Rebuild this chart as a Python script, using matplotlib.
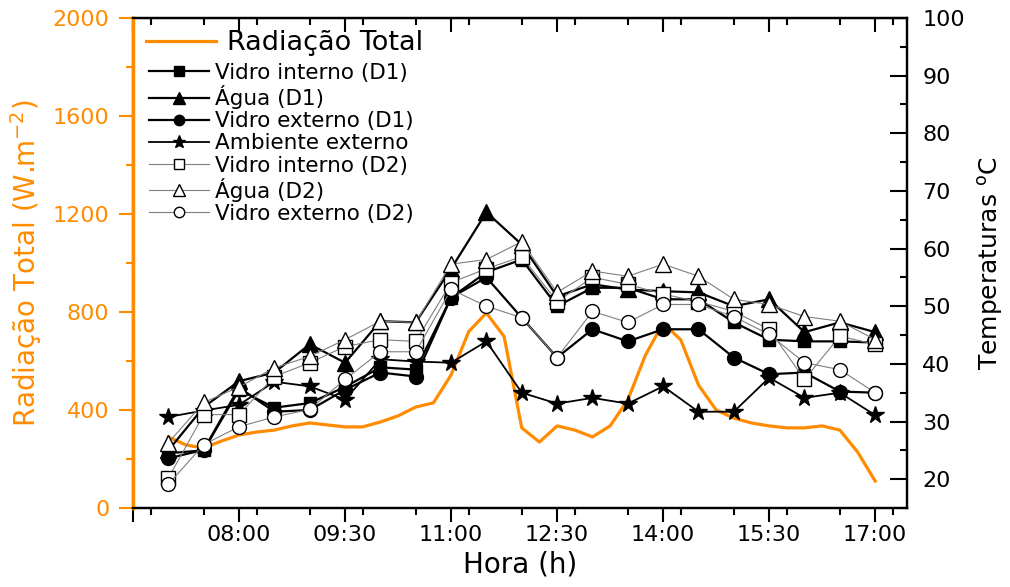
import matplotlib
matplotlib.use('Agg')
import matplotlib.pyplot as plt
from matplotlib.ticker import MultipleLocator, FixedLocator

plt.rcParams['font.family'] = ['DejaVu Sans']
plt.rcParams['mathtext.default'] = 'regular'

ORANGE = '#ff8c00'


def to_hours(labels):
    out = []
    for s in labels:
        h, m = s.split(':')
        out.append(int(h) + int(m) / 60)
    return out


# dados de temperatura (a cada 30 min)
hora_temp = ['07:00', '07:30', '08:00', '08:30', '09:00', '09:30', '10:00',
             '10:30', '11:00', '11:30', '12:00', '12:30', '13:00', '13:30',
             '14:00', '14:30', '15:00', '15:30', '16:00', '16:30', '17:00']
vidro_int_d1 = [24.5, 25.0, 35.5, 32.4, 33.2, 36.0, 39.4, 39.0, 51.5, 55.9, 58.1,
                50.0, 53.2, 53.2, 51.2, 51.2, 47.2, 44.2, 43.9, 43.9, 43.7]
agua_d1 = [25.0, 32.5, 37.0, 38.5, 43.4, 40.2, 47.4, 47.2, 56.5, 66.3, 60.7,
           51.7, 53.8, 52.9, 52.6, 52.4, 50.0, 51.2, 45.5, 47.2, 45.5]
vidro_ext_d1 = [23.6, 25.1, 35.9, 31.7, 32.0, 35.5, 38.5, 37.8, 51.5, 55.0, 48.0,
                41.1, 46.0, 43.9, 46.0, 46.0, 41.1, 38.2, 38.5, 35.2, 35.0]
ambiente = [30.8, 31.9, 32.9, 36.9, 36.1, 33.8, 40.8, 40.4, 40.2, 43.9, 35.0,
            33.1, 34.1, 33.1, 36.1, 31.7, 31.7, 37.6, 34.1, 35.0, 31.1]
vidro_int_d2 = [20.2, 31.2, 31.2, 37.8, 40.2, 43.0, 44.2, 43.9, 54.1, 56.5, 58.6,
                50.8, 55.0, 53.8, 52.1, 50.8, 49.1, 46.0, 37.3, 44.8, 43.4]
agua_d2 = [26.3, 33.3, 36.0, 39.3, 41.3, 44.2, 47.4, 47.2, 57.3, 58.1, 61.2,
           52.4, 56.1, 55.2, 57.3, 55.2, 51.2, 50.3, 48.2, 47.4, 44.2]
vidro_ext_d2 = [19.1, 26.0, 29.1, 30.8, 32.1, 37.3, 42.1, 42.1, 52.9, 50.0, 48.0,
                41.1, 49.1, 47.2, 50.3, 50.3, 48.2, 45.1, 40.2, 39.0, 35.0]

# radiacao (a cada 15 min)
hora_rad = ['07:00', '07:15', '07:30', '07:45', '08:00', '08:15', '08:30', '08:45',
            '09:00', '09:15', '09:30', '09:45', '10:00', '10:15', '10:30', '10:45',
            '11:00', '11:15', '11:30', '11:45', '12:00', '12:15', '12:30', '12:45',
            '13:00', '13:15', '13:30', '13:45', '14:00', '14:15', '14:30', '14:45',
            '15:00', '15:15', '15:30', '15:45', '16:00', '16:15', '16:30', '16:45',
            '17:00']
radiacao = [290, 257, 245, 273, 298, 310, 318, 335, 347, 339, 331, 331, 351, 376,
            412, 429, 543, 720, 796, 700, 327, 269, 335, 318, 290, 335, 441, 624,
            755, 686, 502, 400, 367, 347, 335, 327, 327, 335, 318, 229, 110]

xtick_labels = ['', '08:00', '09:30', '11:00', '12:30', '14:00', '15:30', '17:00']

t = to_hours(hora_temp)
tr = to_hours(hora_rad)
xt = to_hours(['06:30', '08:00', '09:30', '11:00', '12:30', '14:00', '15:30', '17:00'])

fig = plt.figure(figsize=(10.1, 5.87), dpi=100)
ax1 = fig.add_axes([0.1317, 0.1346, 0.7663, 0.8348])
ax2 = ax1.twinx()

l_rad, = ax1.plot(tr, radiacao, color=ORANGE, lw=2.3, label='Radiação Total',
                  solid_joinstyle='round')
ax1.set_xlim(6.5, 17.45)
ax1.set_ylim(0, 2000)
ax1.yaxis.set_major_locator(MultipleLocator(400))
ax1.yaxis.set_minor_locator(MultipleLocator(200))
ax1.xaxis.set_major_locator(FixedLocator(xt))
ax1.xaxis.set_minor_locator(MultipleLocator(0.75))
ax1.set_xticklabels(xtick_labels)
ax1.tick_params(axis='y', which='both', colors=ORANGE, direction='out', width=1.5,
                labelsize=16, pad=7)
ax1.tick_params(axis='y', which='major', length=10)
ax1.tick_params(axis='y', which='minor', length=5)
ax1.tick_params(axis='x', which='both', direction='out', width=1.5, labelsize=16, pad=2)
ax1.tick_params(axis='x', which='major', length=10)
ax1.tick_params(axis='x', which='minor', length=5)
ax1.set_ylabel('Radiação Total (W.m$^{-2}$)', color=ORANGE, fontsize=20, labelpad=6)
ax1.set_xlabel('Hora (h)', fontsize=20, labelpad=4)

top = ax1.secondary_xaxis('top')
top.xaxis.set_major_locator(FixedLocator(xt))
top.xaxis.set_minor_locator(MultipleLocator(0.75))
top.tick_params(which='both', direction='in', labeltop=False, width=1.5)
top.tick_params(which='major', length=10)
top.tick_params(which='minor', length=5)

d1 = dict(color='black', lw=1.6, markersize=9, markerfacecolor='black',
          markeredgecolor='black')
d2 = dict(color='#7f7f7f', lw=0.8, markersize=10, markerfacecolor='white',
          markeredgecolor='black', markeredgewidth=1.0)

h = []
h += ax2.plot(t, vidro_int_d1, marker='s', label='Vidro interno (D1)', **d1)
h += ax2.plot(t, agua_d1, marker='^', label='Água (D1)', **dict(d1, markersize=11))
h += ax2.plot(t, vidro_ext_d1, marker='o', label='Vidro externo (D1)', **dict(d1, markersize=10))
h += ax2.plot(t, ambiente, marker='*', label='Ambiente externo', **dict(d1, markersize=13, lw=1.3))
h += ax2.plot(t, vidro_int_d2, marker='s', label='Vidro interno (D2)', **d2)
h += ax2.plot(t, agua_d2, marker='^', label='Água (D2)', **dict(d2, markersize=12))
h += ax2.plot(t, vidro_ext_d2, marker='o', label='Vidro externo (D2)', **d2)

ax2.set_ylim(15, 100)
ax2.set_yticks(range(20, 101, 10))
ax2.yaxis.set_minor_locator(MultipleLocator(5))
ax2.tick_params(axis='y', which='both', direction='in', width=1.5, labelsize=16, pad=11)
ax2.tick_params(axis='y', which='major', length=12)
ax2.tick_params(axis='y', which='minor', length=5)
ax2.set_ylabel('Temperaturas $^{o}$C', fontsize=18, labelpad=8)

for a in (ax1, ax2):
    for s in a.spines.values():
        s.set_linewidth(1.6)
ax2.spines['left'].set_color(ORANGE)
ax2.spines['left'].set_linewidth(2.5)

leg1 = ax2.legend([l_rad], ['Radiação Total'], loc='upper left',
                  bbox_to_anchor=(146 / 1010, 1 - 30 / 587),
                  bbox_transform=fig.transFigure, frameon=False, fontsize=19.5,
                  handlelength=2.6, handletextpad=0.4, borderpad=0, borderaxespad=0)
ax2.add_artist(leg1)
ax2.legend(handles=h, loc='upper left', bbox_to_anchor=(149 / 1010, 1 - 63 / 587),
           bbox_transform=fig.transFigure, frameon=False, fontsize=15.5,
           handlelength=2.8, handletextpad=0.25, labelspacing=0.1,
           borderpad=0, borderaxespad=0, markerscale=0.75)

fig.savefig('out.png', dpi=100)
